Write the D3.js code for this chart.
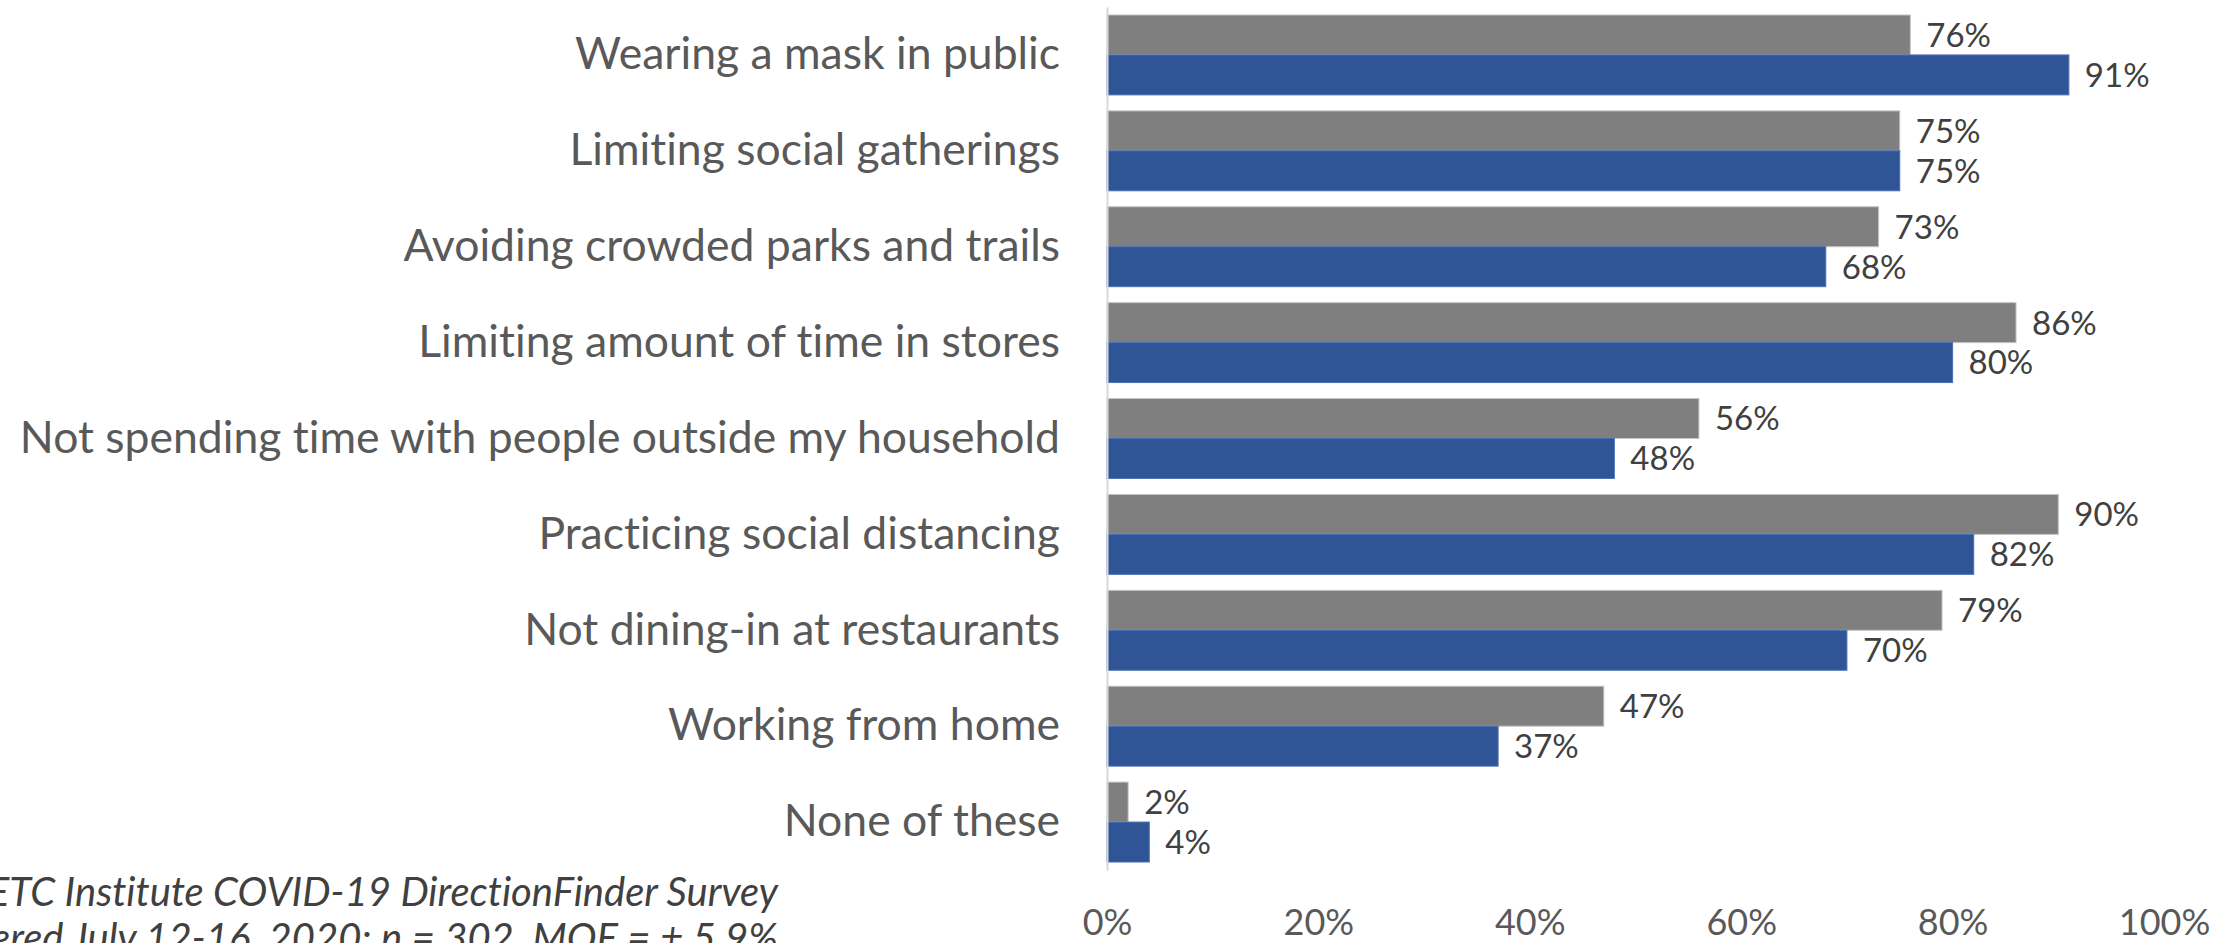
<!DOCTYPE html>
<html>
<head>
<meta charset="utf-8">
<script src="https://cdn.jsdelivr.net/npm/d3@7"></script>
<style>
  html, body { margin: 0; padding: 0; background: #ffffff; }
  svg { display: block; }
  svg text { font-variant-ligatures: none; font-feature-settings: "liga" 0, "clig" 0; }
</style>
</head>
<body>
<svg id="chart" width="2231" height="943"></svg>
<script>
// Protective behaviours reported by respondents (percent)
const categories = [
  "Wearing a mask in public",
  "Limiting social gatherings",
  "Avoiding crowded parks and trails",
  "Limiting amount of time in stores",
  "Not spending time with people outside my household",
  "Practicing social distancing",
  "Not dining-in at restaurants",
  "Working from home",
  "None of these"
];
const seriesGrey = [76, 75, 73, 86, 56, 90, 79, 47, 2];
const seriesBlue = [91, 75, 68, 80, 48, 82, 70, 37, 4];
const tickValues = [0, 20, 40, 60, 80, 100];
const footnoteLines = [
  "ETC Institute COVID-19 DirectionFinder Survey",
  "Administered July 12-16, 2020; n = 302, MOE = \u00B1 5.9%"
];

const svg = d3.select("#chart");
const FONT = "Lato, 'Open Sans', sans-serif";

const x = d3.scaleLinear().domain([0, 100]).range([1107, 2164]);
const y = d3.scaleBand().domain(categories).range([7, 870])
  .paddingInner(1 / 6).paddingOuter(1 / 12);
const sub = d3.scaleBand().domain(["grey", "blue"]).range([0, y.bandwidth()]);

const series = [
  { key: "grey", values: seriesGrey, fill: "#7f7f7f", stroke: "#c4c4c4" },
  { key: "blue", values: seriesBlue, fill: "#2f5597", stroke: "#4a6fb0" }
];

// bars
const groups = svg.append("g").selectAll("g")
  .data(series).join("g");

groups.selectAll("rect")
  .data(s => s.values.map((v, i) => ({ s, v, c: categories[i] })))
  .join("rect")
  .attr("x", x(0))
  .attr("y", d => y(d.c) + sub(d.s.key))
  .attr("width", d => x(d.v) - x(0))
  .attr("height", sub.bandwidth())
  .attr("fill", d => d.s.fill)
  .attr("stroke", d => d.s.stroke)
  .attr("stroke-width", 1);

// value labels
groups.selectAll("text")
  .data(s => s.values.map((v, i) => ({ s, v, c: categories[i] })))
  .join("text")
  .attr("x", d => x(d.v) + 16)
  .attr("y", d => y(d.c) + sub(d.s.key) + sub.bandwidth() / 2)
  .attr("dy", "0.36em")
  .attr("font-family", FONT)
  .attr("font-size", 33)
  .attr("fill", "#404040")
  .text(d => d.v + "%");

// category axis
const yAxis = svg.append("g")
  .attr("transform", `translate(${x(0)},0)`)
  .call(d3.axisLeft(y).tickSize(0).tickPadding(47));
yAxis.select(".domain").attr("stroke", "#d9d9d9").attr("stroke-width", 2);
yAxis.selectAll("text")
  .attr("font-family", FONT)
  .attr("font-size", 44.5)
  .attr("fill", "#595959");

// value axis (labels only)
const xAxis = svg.append("g")
  .attr("transform", "translate(0,870)")
  .call(d3.axisBottom(x).tickValues(tickValues).tickSize(0).tickFormat(d => d + "%"));
xAxis.select(".domain").remove();
xAxis.selectAll("text")
  .attr("y", 65)
  .attr("dy", null)
  .attr("font-family", FONT)
  .attr("font-size", 36)
  .attr("fill", "#595959");

// source note
svg.append("g").selectAll("text")
  .data(footnoteLines)
  .join("text")
  .attr("x", 778)
  .attr("y", (d, i) => 906 + i * 46)
  .attr("text-anchor", "end")
  .attr("font-family", FONT)
  .attr("font-style", "italic")
  .attr("font-size", 40)
  .attr("fill", "#404040")
  .text(d => d);
</script>
</body>
</html>
